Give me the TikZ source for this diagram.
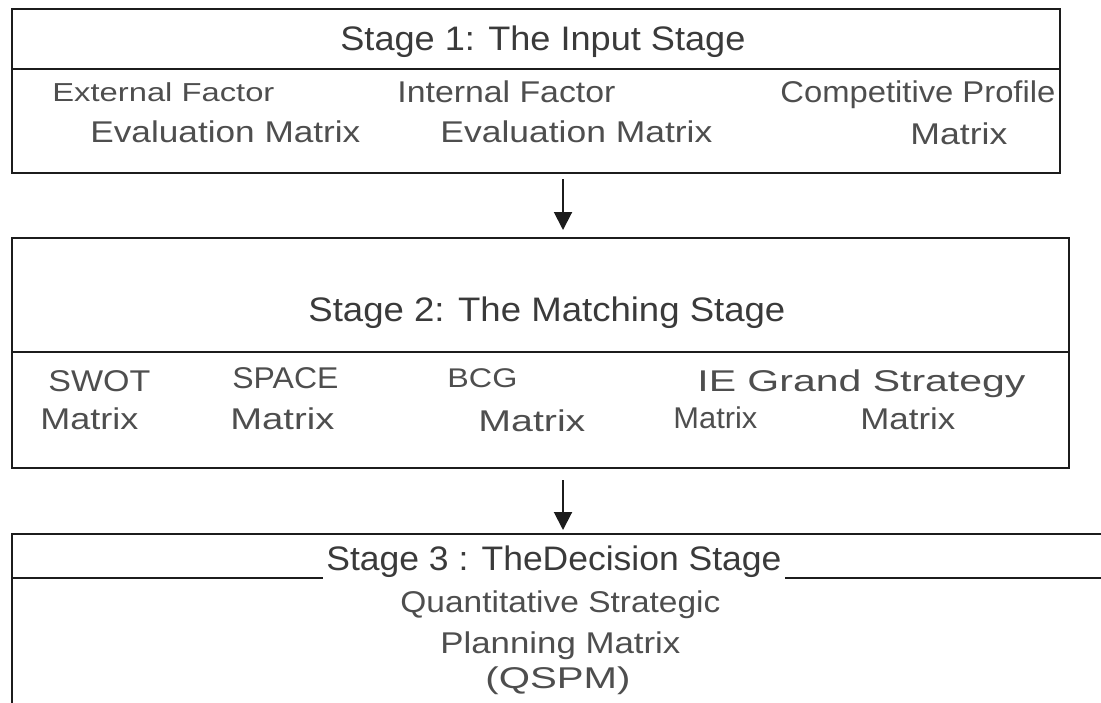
\documentclass[tikz,border=0pt]{standalone}
\usepackage{fontspec}
\setmainfont{Liberation Sans}
\usepackage{graphicx}
\usetikzlibrary{arrows.meta, positioning, calc}
\definecolor{inkline}{RGB}{28, 28, 28}
\definecolor{inktext}{RGB}{58, 58, 58}
\definecolor{inkcell}{RGB}{78, 78, 78}
\newlength\px
\setlength\px{0.5pt}
% stretch a text sideways to a given width (in px), keep its height
\newcommand\fitw[2]{\resizebox{#1\px}{\height}{#2}}
\tikzset{
  stagebox/.style={draw=inkline, line width=1pt, inner sep=0pt,
                   anchor=north west},
  stagehead/.style={font=\fontsize{17}{20}\selectfont, text=inktext,
                    inner sep=0pt, anchor=base west},
  cell/.style={font=\fontsize{15}{18}\selectfont, text=inkcell,
               inner sep=0pt, anchor=base west},
  cellsm/.style={cell, font=\fontsize{13}{15}\selectfont},
  flow/.style={-{Triangle[length=9pt, width=9pt]}, line width=1pt, draw=inkline},
}

\begin{document}
\begin{tikzpicture}[x=0.5pt, y=-0.5pt]

  \useasboundingbox (0,0) rectangle (1101,702);
  \clip (0,0) rectangle (1101,702);

  % ============ STAGE 1 ============
  \node[stagebox, minimum width=1048\px, minimum height=164\px] (input) at (11,8) {};
  \draw[draw=inkline, line width=1pt] (input.west |- 0,69) -- (input.east |- 0,69);

  \node[stagehead] (s1title) at (340,50) {\fitw{405}{Stage 1: The Input Stage}};

  \node[cellsm] (efe1) at (52,101)  {\fitw{222}{External Factor}};
  \node[cell]   (efe2) at (90,142)  {\fitw{270}{Evaluation Matrix}};
  \node[cell]   (ife1) at (397,102) {\fitw{218}{Internal Factor}};
  \node[cell]   (ife2) at (440,142) {\fitw{272}{Evaluation Matrix}};
  \node[cell]   (cpm1) at (780,102) {\fitw{275}{Competitive Profile}};
  \node[cell]   (cpm2) at (910,144) {\fitw{97}{Matrix}};

  % ============ STAGE 2 ============
  \node[stagebox, minimum width=1057\px, minimum height=230\px] (matching) at (11,237) {};
  \draw[draw=inkline, line width=1pt] (matching.west |- 0,352) -- (matching.east |- 0,352);

  \node[stagehead] (s2title) at (308,321) {\fitw{477}{Stage 2: The Matching Stage}};

  \node[cell] (swot1)  at (48,391)  {\fitw{102}{SWOT}};
  \node[cell] (swot2)  at (40,429)  {\fitw{98}{Matrix}};
  \node[cell] (space1) at (232,388) {\fitw{106}{SPACE}};
  \node[cell] (space2) at (230,429) {\fitw{104}{Matrix}};
  \node[cell, font=\fontsize{13.5}{16}\selectfont] (bcg1) at (447,387) {\fitw{70}{BCG}};
  \node[cell] (bcg2)   at (478,431) {\fitw{107}{Matrix}};
  \node[cell] (ie1)    at (697,391) {\fitw{328}{IE Grand Strategy}};
  \node[cell] (ie2)    at (673,428) {\fitw{84}{Matrix}};
  \node[cell] (grand2) at (860,429) {\fitw{95}{Matrix}};

  % ============ STAGE 3 (open to the right and below) ============
  \node[stagebox, minimum width=1120\px, minimum height=200\px] (decision) at (11,533) {};

  \node[stagehead] (s3title) at (326,570) {\fitw{455}{Stage 3 : TheDecision Stage}};
  \draw[draw=inkline, line width=1pt] (decision.west |- 0,578) -- (323,578);
  \draw[draw=inkline, line width=1pt] (785,578) -- (1101,578);

  \node[cell] (qspm1) at (400,612) {\fitw{320}{Quantitative Strategic}};
  \node[cell] (qspm2) at (440,653) {\fitw{240}{Planning Matrix}};
  \node[cell] (qspm3) at (485,688) {\fitw{145}{(QSPM)}};

  % ============ ARROWS ============
  \coordinate (a1) at (563,0);
  \draw[flow, shorten <=2.5pt, shorten >=3.5pt] (a1 |- input.south) -- (a1 |- matching.north);
  \draw[flow, shorten <=5.5pt, shorten >=1.5pt] (a1 |- matching.south) -- (a1 |- decision.north);

\end{tikzpicture}
\end{document}
